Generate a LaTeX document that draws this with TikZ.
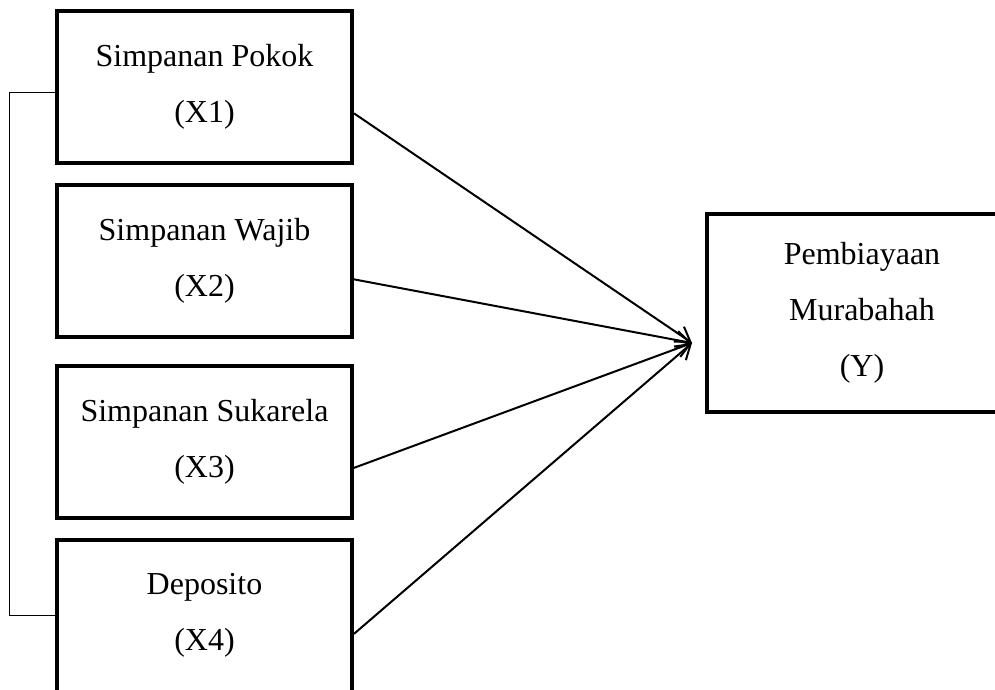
\documentclass[tikz,border=0pt]{standalone}
\usepackage{fontspec}
\setmainfont{Liberation Serif}
\usetikzlibrary{arrows.meta}
\begin{document}
\begin{tikzpicture}[x=0.5pt,y=-0.5pt,
    varbox/.style={draw,line width=2pt,minimum width=147.5pt,minimum height=76pt,align=center,inner sep=0pt,font=\fontsize{16}{28}\selectfont},
    link/.style={line width=1pt,-{Straight Barb[length=7pt,width=9pt]}}]
      \clip (0,0) rectangle (995,690);
      \node[varbox] (x1) at (204.5,87) {Simpanan Pokok\\(X1)};
      \node[varbox] (x2) at (204.5,261) {Simpanan Wajib\\(X2)};
      \node[varbox] (x3) at (204.5,441.5) {Simpanan Sukarela\\(X3)};
      \node[varbox] (x4) at (204.5,615.5) {Deposito\\(X4)};
      \node[varbox,minimum width=155pt,minimum height=99pt] (y) at (862,313) {Pembiayaan\\Murabahah\\(Y)};
      \coordinate (tip) at (692,343);
      \draw[link] (x1.-10) -- (tip);
      \draw[link] (x2.-7) -- (tip);
      \draw[link] (x3.-10) -- (tip);
      \draw[link] (x4.-7) -- (tip);
      \draw[line width=0.5pt] (x1.-178) -- ++(-46,0) |- (x4.west);
    \end{tikzpicture}
\end{document}
